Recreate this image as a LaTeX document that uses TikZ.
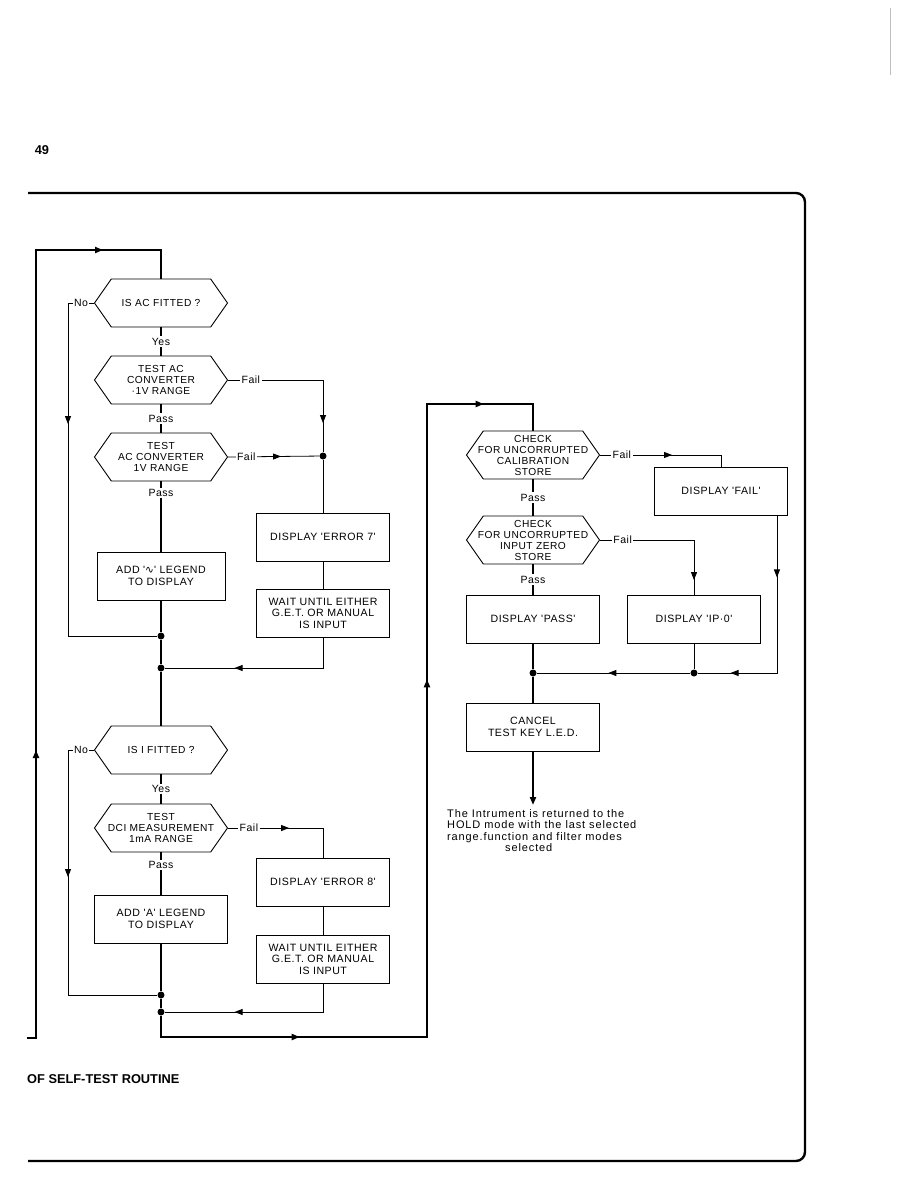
\documentclass[tikz,border=0pt]{standalone}
\usepackage{fontspec}
\setmainfont{Liberation Sans}
\newfontfamily\flowfont[LetterSpace=5]{Liberation Sans}
\newfontfamily\notefont[LetterSpace=8]{Liberation Sans}
\newfontfamily\symfont{DejaVu Sans}
\usetikzlibrary{positioning,arrows.meta,shapes.symbols,decorations.markings}
\tikzset{
  tri/.tip={Triangle[length=8pt,width=6pt]},
  mainln/.style={line width=2.2pt},
  subln/.style={line width=0.8pt},
  midarr/.style={postaction={decorate,decoration={markings,
    mark=at position #1 with {\arrow{tri}}}}},
  boxfont/.style={font=\flowfont\fontsize{10.6}{11.6}\selectfont},
  hexfont/.style={font=\flowfont\fontsize{10.2}{11}\selectfont},
  procbox/.style={draw,line width=0.9pt,minimum width=133pt,minimum height=48pt,
    align=center,inner sep=1pt,boxfont},
  decbox/.style={draw,line width=0.9pt,shape=signal,signal to=east and west,
    signal pointer angle=110,minimum width=133pt,minimum height=48pt,
    inner xsep=-8pt,inner ysep=1pt,align=center,hexfont},
  lbl/.style={fill=white,inner sep=1.5pt,font=\flowfont\fontsize{10.5}{11}\selectfont},
  jdot/.style={circle,fill=black,inner sep=0pt,minimum size=7pt},
  note/.style={align=left,inner sep=0pt,font=\notefont\fontsize{11}{11.6}\selectfont},
  heading/.style={inner sep=0pt,font=\bfseries\fontsize{12.8}{13}\selectfont},
}
\begin{document}
\begin{tikzpicture}[x=1pt,y=-1pt]
  \useasboundingbox (0,0) rectangle (918,1188);
  % page frame
  \draw[line width=2.4pt,rounded corners=9pt] (28,193) -- (805,193) -- (805,1161) -- (28,1161);
  \draw[gray!50,line width=0.6pt] (890,8) -- (890,75);
  \node[heading] (pgnum) at (42,150) {49};
  \node[heading,anchor=west] (title) at (27,1079) {OF SELF-TEST ROUTINE};

  % AC section
  \node[decbox] (acq) at (161,303) {IS AC FITTED ?};
  \node[decbox] (acp1) at (161,380) {TEST AC\\CONVERTER\\·1V RANGE};
  \node[decbox] (acp2) at (161,457) {TEST\\AC CONVERTER\\1V RANGE};
  \node[procbox,minimum width=128pt] (addv) at (161,576) {ADD '{\symfont ∿}' LEGEND\\TO DISPLAY};
  \node[procbox] (err7) at (323,537) {DISPLAY 'ERROR 7'};
  \node[procbox] (wait7) at (323,613) {WAIT UNTIL EITHER\\G.E.T. OR MANUAL\\IS INPUT};
  \node[jdot] (d1) at (161,636) {};
  \node[jdot] (d2) at (161,668) {};
  \node[jdot] (d3) at (323,456) {};

  % DCI section
  \node[decbox] (iq) at (161,750) {IS I FITTED ?};
  \node[decbox] (ip) at (161,828) {TEST\\DCI MEASUREMENT\\1mA RANGE};
  \node[procbox] (adda) at (161,919) {ADD 'A' LEGEND\\TO DISPLAY};
  \node[procbox] (err8) at (323,882) {DISPLAY 'ERROR 8'};
  \node[procbox] (wait8) at (323,959) {WAIT UNTIL EITHER\\G.E.T. OR MANUAL\\IS INPUT};
  \node[jdot] (d4) at (161,995) {};
  \node[jdot] (d5) at (161,1012) {};

  % store checks
  \node[decbox] (calq) at (533,455) {CHECK\\FOR UNCORRUPTED\\CALIBRATION\\STORE};
  \node[decbox] (zeroq) at (533,540) {CHECK\\FOR UNCORRUPTED\\INPUT ZERO\\STORE};
  \node[procbox] (dfail) at (721,491) {DISPLAY 'FAIL'};
  \node[procbox] (dpass) at (533,619) {DISPLAY 'PASS'};
  \node[procbox] (dip) at (694,619) {DISPLAY 'IP·0'};
  \node[procbox] (cancel) at (533,727) {CANCEL\\TEST KEY L.E.D.};
  \node[jdot] (d6) at (533,673) {};
  \node[jdot] (d7) at (694,673) {};
  \node[note,anchor=north west] (ret) at (447,809) {The Intrument is returned to the\\
    HOLD mode with the last selected\\range.function and filter modes\\
    \hspace*{58pt}selected};

  % bends
  \coordinate (lin) at (27,1038);
  \coordinate (lc1) at (36,1038);
  \coordinate (lc2) at (36,250);
  \coordinate (lc3) at (161,250);
  \coordinate (nob1) at (68,303);
  \coordinate (nob2) at (68,636);
  \coordinate (f1a) at (323,380);
  \coordinate (w7c) at (323,668);
  \coordinate (nob3) at (68,750);
  \coordinate (nob4) at (68,995);
  \coordinate (f5a) at (323,828);
  \coordinate (w8c) at (323,1012);
  \coordinate (rb1) at (161,1037);
  \coordinate (rb2) at (427,1037);
  \coordinate (rb3) at (427,404);
  \coordinate (rb4) at (533,404);
  \coordinate (f6a) at (721,455);
  \coordinate (f7a) at (694,540);
  \coordinate (ff1) at ([xshift=-11pt]dfail.south east);
  \coordinate (ff2) at (ff1 |- d7);
  \coordinate (endpt) at (533,805);

  % left column
  \draw[mainln,midarr=297pt,midarr=864pt] (lin) -- (lc1) -- (lc2) -- (lc3) -- (acq.north);
  \draw[subln,midarr=147pt] (acq.west) -- node[lbl]{No} (nob1) -- (nob2) -- (d1);
  \draw[mainln] (acq.south) -- node[lbl]{Yes} (acp1.north);
  \draw[subln,midarr=138pt] (acp1.east) -- node[lbl,pos=0.24]{Fail} (f1a) -- (d3);
  \draw[mainln] (acp1.south) -- node[lbl]{Pass} (acp2.north);
  \draw[subln,midarr=53pt] (acp2.east) -- node[lbl,pos=0.2]{Fail} (d3);
  \draw[subln] (d3) -- (err7.north);
  \draw[mainln] (acp2.south) -- node[lbl,pos=0.16]{Pass} (addv.north);
  \draw[mainln] (addv.south) -- (d1) -- (d2) -- (iq.north);
  \draw[subln] (err7.south) -- (wait7.north);
  \draw[subln,midarr=119pt] (wait7.south) -- (w7c) -- (d2);

  \draw[subln,midarr=153pt] (iq.west) -- node[lbl]{No} (nob3) -- (nob4) -- (d4);
  \draw[mainln] (iq.south) -- node[lbl]{Yes} (ip.north);
  \draw[subln,midarr=61pt] (ip.east) -- node[lbl,pos=0.22]{Fail} (f5a) -- (err8.north);
  \draw[mainln] (ip.south) -- node[lbl,pos=0.3]{Pass} (adda.north);
  \draw[subln] (err8.south) -- (wait8.north);
  \draw[subln,midarr=117pt] (wait8.south) -- (w8c) -- (d5);
  \draw[mainln] (adda.south) -- (d4) -- (d5);
  \draw[mainln,midarr=160pt,midarr=645pt,midarr=977pt] (d5) -- (rb1) -- (rb2) -- (rb3) -- (rb4) -- (calq.north);

  % right column
  \draw[subln,midarr=72pt] (calq.east) -- node[lbl,pos=0.18]{Fail} (f6a) -- (dfail.north);
  \draw[mainln] (calq.south) -- node[lbl]{Pass} (zeroq.north);
  \draw[subln,midarr=134pt] (zeroq.east) -- node[lbl,pos=0.24]{Fail} (f7a) -- (dip.north);
  \draw[mainln] (zeroq.south) -- node[lbl]{Pass} (dpass.north);
  \draw[subln,midarr=62pt,midarr=204pt] (ff1) -- (ff2) -- (d7);
  \draw[subln] (dip.south) -- (d7);
  \draw[subln,midarr=82pt] (d7) -- (d6);
  \draw[mainln] (dpass.south) -- (d6) -- (cancel.north);
  \draw[mainln,-{tri}] (cancel.south) -- (endpt);
\end{tikzpicture}
\end{document}
